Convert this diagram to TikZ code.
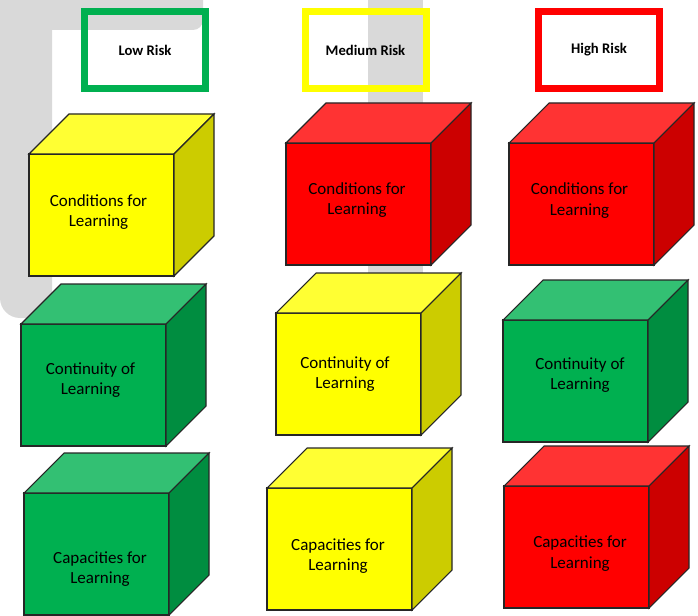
\documentclass[tikz,border=0pt]{standalone}
\usepackage{fontspec}
\setmainfont{Carlito}
\definecolor{bggray}{HTML}{D9D9D9}
\definecolor{yfront}{HTML}{FFFF00}
\definecolor{ytop}{HTML}{FFFF33}
\definecolor{yside}{HTML}{CCCC00}
\definecolor{rfront}{HTML}{FF0000}
\definecolor{rtop}{HTML}{FF3333}
\definecolor{rside}{HTML}{CC0000}
\definecolor{gfront}{HTML}{00B050}
\definecolor{gtop}{HTML}{33C073}
\definecolor{gside}{HTML}{008D40}
\definecolor{edgecol}{HTML}{262626}
\newcommand\riskcube[6]{% #1 name, #2 x, #3 y, #4 colour prefix, #5 text centre, #6 text
  \draw[cubeline, fill=#4front] (#2,#3) rectangle (#2+145,#3+122);
  \draw[cubeline, fill=#4top] (#2,#3) -- (#2+40,#3-40) -- (#2+185,#3-40) -- (#2+145,#3) -- cycle;
  \draw[cubeline, fill=#4side] (#2+145,#3) -- (#2+185,#3-40) -- (#2+185,#3+82) -- (#2+145,#3+122) -- cycle;
  \node[cubetext] (#1) at (#5) {#6};
}
\begin{document}
\begin{tikzpicture}[x=0.75pt,y=-0.75pt,
  cubeline/.style={draw=edgecol, line width=0.8pt, line join=miter},
  cubetext/.style={align=center, inner sep=0pt, text=black, yshift=-1.5pt,
    font=\fontsize{12.75pt}{15.6pt}\selectfont},
  riskbox/.style={line width=5.25pt, minimum width=90.75pt, minimum height=57.75pt,
    inner sep=0pt, font=\fontsize{11pt}{13pt}\selectfont\bfseries, text=black}]
\useasboundingbox (0,0) rectangle (698,616);
% background grey shapes
\fill[bggray] (-5,-5) -- (203,-5) -- (203,20) .. controls (203,25.5) and (198.5,30) .. (193,30)
  -- (52,30) -- (52,318) -- (20,318) .. controls (9,318) and (0,309) .. (0,298) -- (-5,298) -- cycle;
\fill[bggray] (368,-5) rectangle (423,300);
% header boxes
\node[riskbox, draw=gfront] (low) at (145,50) {Low Risk};
\node[riskbox, draw=yfront] (medium) at (365.5,50) {Medium Risk};
\node[riskbox, draw=rfront] (high) at (599,50) {High Risk};
% column 1
\riskcube{c11}{29}{154}{y}{98.5,210}{Conditions for\\Learning}
\riskcube{c21}{21}{324}{g}{90.5,378}{Continuity of\\Learning}
\riskcube{c31}{24}{493}{g}{100,567}{Capacities for\\Learning}
% column 2
\riskcube{c12}{286}{143}{r}{357,198}{Conditions for\\Learning}
\riskcube{c22}{276}{313}{y}{345,372}{Continuity of\\Learning}
\riskcube{c32}{267}{488}{y}{338,554}{Capacities for\\Learning}
% column 3
\riskcube{c13}{509}{143}{r}{579.5,198.5}{Conditions for\\Learning}
\riskcube{c23}{503}{320}{g}{580,373}{Continuity of\\Learning}
\riskcube{c33}{504}{486}{r}{580,551.5}{Capacities for\\Learning}
\end{tikzpicture}
\end{document}
